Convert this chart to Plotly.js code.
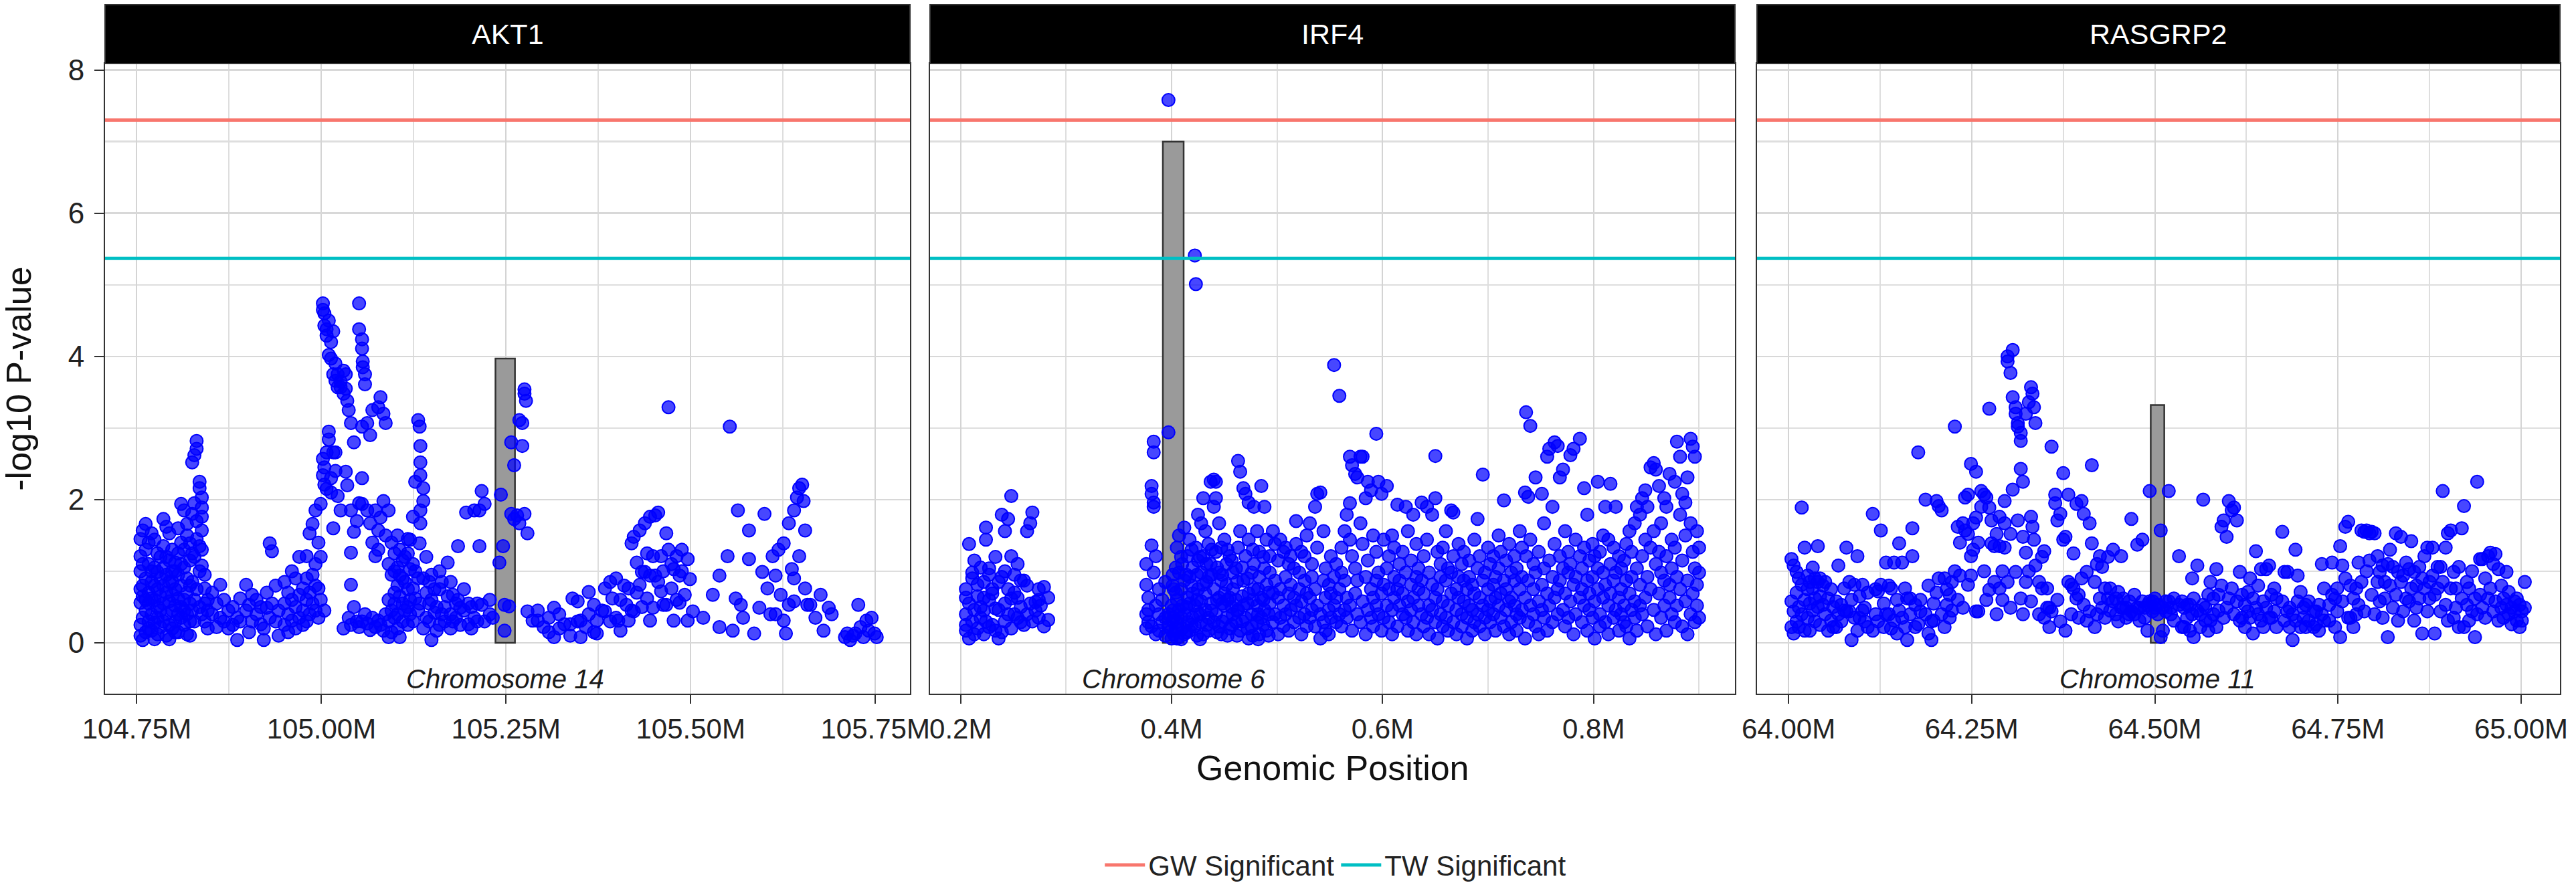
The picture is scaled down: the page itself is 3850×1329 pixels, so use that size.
<!DOCTYPE html>
<html><head><meta charset="utf-8">
<script src="https://cdn.plot.ly/plotly-3.0.1.min.js"></script>
<style>html,body{margin:0;padding:0;background:#fff}#chart{width:3850px;height:1329px}</style>
</head><body><div id="chart"></div>
<script>
const genes = ['AKT1', 'IRF4', 'RASGRP2'];
const chromosomes = ['Chromosome 14', 'Chromosome 6', 'Chromosome 11'];
const geneStart = [105.2357, 0.3917, 64.4944];
const geneEnd = [105.2621, 0.4114, 64.5129];
const geneLogP = [3.97, 7.00, 3.32];
const gwThreshold = 7.30;
const twThreshold = 5.37;
const xRanges = [[104.707, 105.797], [0.171, 0.934], [63.957, 65.053]];
const yRange = [-0.71, 8.09];
const xTickVals = [[104.75, 105.00, 105.25, 105.50, 105.75], [0.2, 0.4, 0.6, 0.8], [64.00, 64.25, 64.50, 64.75, 65.00]];
const xTickText = [['104.75M', '105.00M', '105.25M', '105.50M', '105.75M'], ['0.2M', '0.4M', '0.6M', '0.8M'], ['64.00M', '64.25M', '64.50M', '64.75M', '65.00M']];
const xMinorVals = [[104.875, 105.125, 105.375, 105.625], [0.3, 0.5, 0.7, 0.9], [64.125, 64.375, 64.625, 64.875]];
const yTickVals = [0, 2, 4, 6, 8];
const yTickText = ['0', '2', '4', '6', '8'];
const yMinorVals = [1, 3, 5, 7];

// rows: [position (Mb), -log10 P of SNPs at about that position ...]
const akt1Rows = [
[104.755,0.56,0.25,0.10,1.00,1.21,1.45,0.75],[104.758,0.04,0.35,0.80,1.57,0.65,1.10],[104.762,1.66,0.15,0.45,1.30,0.90,0.60],
[104.766,0.30,0.70,1.10,0.20,0.55,1.40],[104.770,0.17,0.85,1.53,0.40,0.62,1.00],[104.774,0.05,1.44,0.60,0.28,1.05,0.80],
[104.778,0.99,0.35,0.75,0.50,0.12,1.25],[104.782,0.22,0.65,1.20,0.45,0.90],[104.786,1.73,0.30,0.80,0.55,1.35,1.05],
[104.790,1.62,0.10,0.70,0.95,0.40,1.20],[104.794,1.53,0.25,0.58,1.15,0.05,0.85],[104.798,1.30,0.45,0.85,0.20,0.66,1.00],
[104.802,1.12,0.30,0.52,0.75,1.00,0.15],[104.806,0.40,0.95,0.15,1.25,0.62,1.60],[104.810,1.94,0.50,0.80,0.35,1.40,1.10],
[104.814,1.85,0.60,0.25,1.05,0.45,1.30],[104.818,1.66,0.70,0.40,1.50,0.90,0.12],[104.822,1.39,0.55,0.30,1.15,0.10,0.80],
[104.825,2.52,1.80,0.85,0.45,1.25],[104.828,2.62,1.95,0.60,1.20,0.30],[104.831,2.82,2.71,1.70,0.75,1.45],
[104.835,2.25,2.16,1.00,0.50,1.35],[104.838,2.03,1.89,1.76,1.57,1.30,1.08,0.40],[104.842,0.76,0.55,0.30,0.95],
[104.846,0.60,0.20,0.45],[104.852,0.40,0.70],[104.858,0.22,0.55],[104.863,0.81,0.35],[104.868,0.30,0.60],
[104.874,0.45,0.20],[104.880,0.25,0.50],[104.886,0.04,0.35],[104.890,0.62,0.30],[104.898,0.81,0.45],
[104.902,0.53,0.15],[104.906,0.67,0.30],[104.912,0.40,0.60],[104.918,0.26,0.50],[104.922,0.04,0.20],
[104.926,0.49,0.70],[104.930,1.39,0.35],[104.933,1.28,0.55],[104.938,0.30,0.80],[104.942,0.10,0.45],
[104.950,0.25,0.55,0.85],[104.955,0.40,0.70,0.15],[104.960,0.31,0.60,1.00],[104.965,0.50,0.20,0.90],
[104.970,0.67,0.35,1.20],[104.975,0.76,0.45,0.25],[104.980,1.21,0.60,0.30,0.90],[104.984,1.53,0.70,0.40],
[104.988,1.66,0.55,0.95],[104.992,1.85,0.80,0.45,1.10],[104.996,0.76,1.40,0.35],[104.999,1.94,1.20,0.60],
[105.002,4.74,4.65,2.57,2.34],[105.004,4.60,4.43,2.21,2.45,0.45],[105.007,4.29,4.38,2.66,2.15],
[105.010,4.02,4.50,2.84,2.95],[105.013,3.97,4.20,2.30,2.10],[105.016,3.75,4.35,2.66,1.60],
[105.019,2.66,3.66,3.90,2.40],[105.022,3.75,3.57,2.05],[105.026,3.57,1.85,3.65],[105.030,3.48,3.80,0.20],
[105.033,3.75,2.39,3.55],[105.035,3.38,2.20],[105.037,3.25,0.35],[105.040,3.07,1.85,1.26,0.81,0.25],
[105.044,2.80,1.55,0.50],[105.048,1.70,0.30],[105.051,4.74,4.38,0.22,1.95],[105.055,4.24,4.11,2.30,1.94,3.02,0.30],
[105.056,3.93,3.85],[105.059,3.75,3.61,0.40],[105.062,3.07,1.85,0.27],[105.066,1.67,2.90,0.18],
[105.069,3.25,1.40,0.35],[105.073,1.85,1.21,0.22],[105.077,3.29,1.57,1.30,0.31],[105.080,3.43,1.75,0.25],
[105.084,3.20,1.98,0.17],[105.087,3.07,1.50,0.40],[105.091,1.85,1.10,0.60,0.30,0.08],[105.095,0.95,1.40,0.45,0.15],
[105.099,1.25,0.70,0.35,0.55,1.00],[105.103,1.50,0.40,0.20,1.05,0.80],[105.106,0.94,0.65,1.30,0.08],
[105.110,0.90,0.30,1.15,0.55],[105.113,0.85,0.45,1.20],[105.117,0.50,0.75,0.25,1.25,1.45],[105.120,1.03,1.44,0.40,0.60],
[105.124,1.76,0.76,0.30,1.10],[105.127,2.25,0.62,1.00],[105.131,3.11,0.90,0.45],[105.133,3.02,1.39,0.55],
[105.134,2.75,2.52,2.34,1.85,1.67],[105.138,2.16,1.98,0.90,0.20],[105.142,0.35,0.70,1.20],[105.146,0.55,0.30,0.85],
[105.149,0.04,0.60,0.95],[105.153,0.42,0.75],[105.156,0.17,0.50],[105.160,0.25,0.75,1.00],[105.163,0.85,0.40],
[105.167,0.50,0.30],[105.171,1.12,0.65],[105.175,0.40,0.85,0.20],[105.178,0.67,0.30],[105.182,0.55,0.35],
[105.185,1.35,0.60],[105.188,0.49,0.25],[105.193,0.45,0.75],[105.196,1.82],[105.199,0.26,0.55],[105.203,0.50,0.20],
[105.207,1.85,0.35],[105.211,0.55,0.30],[105.214,1.85,1.35],[105.217,2.12,0.53],[105.221,1.94,0.30],
[105.228,0.40,0.60],[105.232,0.35],[105.241,1.12],[105.243,2.07],[105.246,1.35],[105.248,0.53,0.17],[105.254,0.51],
[105.257,2.80,1.80],[105.261,2.48,1.73],[105.265,1.78],[105.268,3.11,1.67],[105.272,3.07,2.75],[105.275,3.48,3.54,1.80],
[105.277,3.38],[105.279,1.53,0.44],[105.286,0.31],[105.293,0.31,0.45],[105.301,0.22],[105.308,0.35,0.15],
[105.315,0.08,0.49],[105.322,0.40,0.20],[105.329,0.26],[105.337,0.26,0.10],[105.340,0.62],[105.347,0.58,0.30],
[105.351,0.08,0.31],[105.358,0.22],[105.362,0.71,0.40],[105.369,0.53,0.15],[105.373,0.31,0.13],[105.380,0.45],
[105.384,0.76,0.44],[105.391,0.85,0.30],[105.394,0.62],[105.399,0.35,0.90],[105.402,0.31],[105.405,0.17,0.60],
[105.410,0.80],[105.413,0.53],[105.416,0.76,0.31],[105.420,1.39,0.45],[105.423,1.48,0.44],[105.427,1.12,0.70],
[105.431,1.57,0.81],[105.434,0.99,0.50],[105.438,1.67,0.99],[105.441,0.62,1.25],[105.445,1.76,0.31,0.94],
[105.449,1.21,0.49],[105.452,1.78,0.94],[105.456,1.82,0.85],[105.460,1.21,0.72],[105.463,0.53,1.00],
[105.467,1.53,0.53],[105.470,3.29,1.30],[105.474,0.76,1.10],[105.477,1.03,0.31],[105.481,1.21,0.60],
[105.485,0.94,0.56],[105.488,1.30,1.00],[105.492,0.67],[105.496,1.17,0.31],[105.499,0.89],[105.503,0.44],
[105.517,0.35],[105.530,0.67],[105.539,0.94,0.22],[105.550,1.21],[105.553,3.02],[105.557,0.17],[105.561,0.62],
[105.564,1.85],[105.568,0.53],[105.571,0.35],[105.579,1.57,1.17],[105.586,0.13],[105.593,0.49],[105.597,0.99],
[105.600,1.80],[105.604,0.76],[105.608,0.40],[105.611,1.21],[105.615,0.94,0.40],[105.619,1.30],[105.622,0.67],
[105.626,1.39,0.31],[105.629,0.13],[105.633,1.67,0.53],[105.637,1.03],[105.640,1.85,0.90,0.58],[105.644,2.03],
[105.647,2.16,1.21],[105.651,2.21],[105.653,1.98],[105.655,1.57,0.76],[105.658,0.53],[105.662,0.53],[105.669,0.35],
[105.676,0.67],[105.680,0.17],[105.687,0.49],[105.691,0.40],[105.709,0.08],[105.712,0.13],[105.716,0.04],
[105.720,0.10],[105.723,0.13],[105.727,0.53],[105.730,0.22],[105.734,0.08],[105.738,0.31],[105.741,0.17],
[105.745,0.35],[105.749,0.13],[105.752,0.08]
];

const irf4Rows = [
[0.205,0.40,0.75,0.25,0.63,0.17],[0.208,1.38,0.06,0.55],[0.211,0.98,0.90,0.30],[0.213,1.15,0.46,0.12],
[0.216,0.81,0.20,0.65],[0.219,0.35,1.05,0.50],[0.222,0.45,0.85,0.12,0.63],[0.224,1.61,1.44,0.30],
[0.227,1.04,0.60,0.95,0.22],[0.230,0.69,0.25,0.75],[0.233,0.17,1.20,0.48],[0.236,0.06,0.46,0.85],
[0.239,1.79,0.92,0.15],[0.242,1.56,0.55,0.30,1.00],[0.245,1.73,0.75,0.40],[0.248,2.05,1.21,0.20,0.62],
[0.251,0.40,0.70,0.95],[0.254,0.63,0.35,1.10],[0.257,0.29,0.50,0.87],[0.260,0.87,0.25],[0.263,1.56,0.40,0.80],
[0.266,1.67,0.55],[0.268,1.82,0.30],[0.271,0.57,0.45],[0.274,0.75,0.35,0.60],[0.276,0.52],[0.279,0.23,0.78],
[0.283,0.32,0.63],
[0.376,0.81,0.40,0.20,1.10],[0.378,0.46,0.63,0.29],[0.381,2.19,2.08,1.36,0.23],[0.383,2.81,2.66,1.96,1.90,0.98],
[0.385,1.21,0.52,0.12],[0.388,0.40,0.75,0.17],[0.391,0.29,0.60],[0.394,0.35,0.10,0.85],[0.397,7.58,2.94,0.23,0.40],
[0.400,0.06,0.52,0.17],[0.401,0.45,0.80,0.95,0.30],[0.402,0.35,0.12,0.75],[0.404,0.70,0.20,1.05],
[0.405,0.06,0.29,1.33,0.60],[0.407,1.50,0.46,0.98],[0.409,0.35,0.75,1.20,0.05],
[0.410,0.52,1.10,0.20],[0.412,1.61,0.87,0.40,0.12],[0.414,0.95,0.15,0.50],[0.415,1.21,0.63,0.29],[0.417,1.44,0.92,0.17,0.55],
[0.419,0.25,1.30,0.80],[0.420,0.69,1.05,0.35],[0.422,5.41,0.52,0.23],[0.423,5.01,1.33],[0.424,0.60,0.95,0.10],
[0.425,1.79,0.75,0.40,1.15],[0.427,1.20,0.40,0.05],
[0.428,1.67,0.29,0.98,0.58],[0.430,2.02,1.21,0.12,0.81],[0.432,1.56,0.46,0.69],[0.433,0.85,0.25,1.10],
[0.435,1.38,0.35,0.92,0.17],[0.437,2.25,1.10,0.55],[0.438,0.45,0.95,1.30],[0.440,2.28,1.90,0.75,0.29],
[0.442,2.25,2.02,0.40,1.27],[0.443,0.60,0.15,1.05],[0.445,1.67,0.63,0.23,0.98],
[0.447,1.33,0.87,0.12],[0.448,0.30,0.95,0.55],[0.450,0.52,1.44,0.69],[0.452,0.35,0.81,1.10],[0.453,0.10,0.60,1.30],
[0.455,0.63,0.20,1.21],[0.457,0.50,1.15,0.25],[0.458,0.75,0.40,0.98],
[0.461,1.04,0.29,0.60],[0.462,0.85,0.10,0.45],[0.463,2.54,0.46,1.33],[0.465,2.39,1.56,0.17],[0.467,0.30,1.05,0.65],
[0.468,2.16,0.87,0.52],[0.470,2.08,1.21,0.35],[0.472,0.20,0.55,0.90],
[0.473,1.96,0.69,1.44,0.06],[0.476,0.98,0.40,0.23],[0.477,0.60,1.30,0.10],[0.478,1.90,0.75,1.10],[0.481,1.56,0.52,0.29],
[0.482,0.40,0.75,0.05],[0.483,0.92,1.27,0.12],[0.485,2.19,0.63,0.35],[0.487,0.25,0.60,1.20],[0.488,1.90,1.04,0.46],
[0.490,1.44,0.81,0.17],[0.492,0.10,0.40,0.70],[0.493,1.21,0.55,0.98],
[0.496,1.56,0.29,0.69],[0.498,1.38,0.87,0.40],[0.501,0.63,1.15,0.12],[0.503,1.44,0.35,0.75],[0.506,1.27,0.52,0.23],
[0.508,1.33,0.92,0.40],[0.511,0.69,1.10,0.17],[0.513,1.21,0.46,0.81],[0.516,1.04,0.29,0.63],[0.518,1.38,1.70,0.52],
[0.521,0.98,0.35,0.75],[0.523,1.27,0.12,0.58],[0.526,1.21,0.87,0.40],[0.528,1.50,0.23,0.69],[0.531,1.67,0.63,0.35],
[0.533,1.10,0.46,0.92],[0.536,1.90,0.75,0.23],[0.538,2.08,1.33,0.52],[0.541,2.10,0.40,0.06],[0.544,1.56,0.87,0.29],
[0.546,0.63,0.17,1.04],[0.549,0.46,0.81,0.12],[0.551,0.35,0.69,1.21],[0.554,3.88,0.52,0.92],[0.556,0.29,0.63,1.10],
[0.559,3.45,0.75,0.40],[0.561,0.98,0.23,1.33],[0.564,0.46,0.87,1.56],[0.566,1.79,0.35,0.63],[0.569,2.60,1.44,0.52,1.95],
[0.571,2.48,1.21,0.17],[0.574,2.36,1.04,0.69],[0.576,2.31,0.40,0.87],[0.579,2.60,1.67,0.29],[0.581,2.60,1.38,0.58],
[0.584,2.02,0.92,0.12],[0.586,2.25,1.15,0.46],[0.589,2.13,0.75,0.35],[0.591,1.50,0.63,0.23],[0.594,2.92,1.27,0.87,0.52],
[0.596,2.25,0.98,0.40],[0.599,2.08,0.69,0.17],[0.601,1.44,0.35,0.81],[0.604,2.19,1.04,0.52],[0.606,0.75,1.21,0.29],
[0.609,1.50,0.46,0.12],[0.611,0.92,0.63,1.33],[0.614,1.93,0.23,0.75],[0.616,1.10,0.52,0.87],[0.619,0.40,1.27,0.69],
[0.622,1.90,0.98,0.35],[0.624,1.56,0.58,0.17],[0.627,0.81,1.15,0.46],[0.629,1.79,0.63,0.29],[0.632,1.38,0.92,0.12],
[0.634,0.52,1.04,0.75],[0.637,1.96,0.40,0.87],[0.639,1.21,0.69,0.23],[0.642,1.90,0.35,1.44],[0.644,0.98,0.52,0.12],
[0.647,1.79,0.81,0.46],[0.650,2.61,2.02,0.63,0.29],[0.652,1.27,0.75,0.06],[0.655,0.92,0.40,1.10],[0.657,0.58,1.33,0.23],
[0.660,0.87,0.35,1.56],[0.662,1.04,0.52,0.17],[0.665,1.85,0.69,0.98],[0.667,1.82,0.29,1.21],[0.670,0.75,0.46,0.12],
[0.672,1.38,0.63,0.92],[0.675,0.40,1.10,0.23],[0.677,0.87,0.58,1.27],[0.680,0.35,0.75,0.06],[0.682,1.15,0.52,0.92],
[0.685,0.46,0.81,0.17],[0.687,1.44,0.29,0.69],[0.690,1.73,1.04,0.40],[0.692,0.63,0.23,1.21],[0.695,2.35,0.87,0.52],
[0.697,0.98,0.35,0.12],[0.700,1.33,0.75,0.46],[0.702,0.58,1.10,0.29],[0.705,1.21,0.40,0.81],[0.707,0.92,0.17,0.63],
[0.710,1.50,0.52,1.04],[0.712,0.69,0.35,1.27],[0.715,1.99,0.87,0.23],[0.717,1.15,0.46,0.75],[0.720,0.58,1.38,0.12],
[0.722,0.98,0.29,0.63],[0.725,1.21,0.52,0.87],[0.727,0.40,1.04,0.17],[0.730,1.56,0.75,0.35],[0.732,0.92,0.46,1.33],
[0.735,2.10,0.63,0.06],[0.736,3.22,1.21],[0.738,2.04,0.87,0.29],[0.740,3.03,1.44,0.52],[0.743,1.10,0.40,0.75],
[0.745,2.31,0.98,0.23],[0.748,1.27,0.58,0.12],[0.751,2.08,0.81,0.46],[0.753,1.67,0.35,1.04],[0.756,2.60,0.69,0.17],
[0.758,2.71,1.15,0.52],[0.761,1.90,0.92,0.29],[0.763,2.80,1.38,0.63],[0.766,2.75,0.75,0.40],[0.768,2.31,1.21,0.87],
[0.771,2.42,0.46,1.04],[0.773,1.56,0.23,0.69],[0.776,1.27,0.98,0.35],[0.778,2.62,0.58,1.10],[0.781,2.71,0.81,0.12],
[0.783,1.44,0.40,0.92],[0.787,2.85,1.21,0.63],[0.789,1.04,0.29,0.75],[0.791,2.16,0.52,1.33],[0.794,1.79,0.87,0.17],
[0.796,1.15,0.46,0.69],[0.799,0.92,1.38,0.35],[0.801,1.21,0.58,0.06],[0.804,2.25,0.75,1.04],[0.806,1.27,0.40,0.23],
[0.809,0.98,0.63,1.50],[0.811,1.90,0.81,0.29],[0.814,1.44,0.52,0.12],[0.816,2.22,0.69,1.10],[0.819,1.33,0.35,0.87],
[0.821,1.90,0.98,0.46],[0.824,0.63,1.21,0.17],[0.826,1.04,0.40,0.75],[0.829,0.52,1.15,0.29],[0.831,0.87,0.23,1.38],
[0.834,1.56,0.69,0.06],[0.836,1.27,0.46,0.92],[0.839,1.67,0.58,0.35],[0.841,1.90,1.04,0.17],[0.844,1.79,0.81,0.52],
[0.846,2.02,1.21,0.40],[0.849,2.13,0.63,1.44],[0.851,1.90,0.92,0.23],[0.854,2.45,1.33,0.75],[0.857,2.51,1.56,0.46],
[0.859,2.42,1.10,0.12],[0.862,2.19,0.69,1.27],[0.864,1.67,0.98,0.35],[0.867,2.02,0.52,0.87],[0.869,1.90,1.21,0.17],
[0.872,2.36,0.81,0.63],[0.874,1.44,0.40,1.04],[0.877,2.25,0.29,1.33],[0.879,2.81,0.92,0.52],[0.882,2.60,1.79,0.75],
[0.884,2.08,1.15,0.23],[0.887,1.96,0.58,1.50],[0.889,2.31,0.87,0.12],[0.892,2.85,1.67,0.40],[0.894,2.74,1.27,0.69],
[0.896,2.60,1.04,0.29],[0.898,1.56,0.52,0.81],[0.900,1.33,0.35,0.98]
];

const rasgrp2Rows = [
[64.004,1.17,0.58,0.22],[64.007,1.08,0.44,0.13],[64.011,0.99,0.70,0.30],[64.014,0.90,0.50,0.22],[64.018,1.89,0.81,0.40],
[64.022,1.33,0.60,0.17],[64.026,0.94,0.35,0.75],[64.029,0.17,0.85,0.55],[64.033,0.76,1.05,0.45],[64.036,0.62,0.30,0.90],
[64.040,1.35,0.85,0.50],[64.043,0.90,0.25,0.65],[64.047,0.53,0.80],[64.050,0.85,0.40],[64.054,0.17,0.62],
[64.058,0.31,0.75],[64.061,0.50,0.22],[64.065,0.22,0.58],[64.068,1.08,0.40],[64.072,0.53,0.30],[64.076,0.76,0.45],
[64.079,1.33,0.44],[64.083,0.44,0.85],[64.086,0.04,0.60],[64.090,0.81,0.35],[64.094,1.21,0.17],[64.097,0.35,0.65],
[64.101,0.81,0.45],[64.104,0.49,0.30],[64.108,0.70,0.22],[64.115,1.80,0.17],[64.119,0.40,0.75],[64.122,0.72,0.30],
[64.126,1.57,0.81],[64.130,0.55,0.22],[64.133,1.12,0.40],[64.137,0.40,0.80],[64.140,0.76,0.20],[64.144,1.12,0.31],
[64.148,0.60,0.13],[64.151,1.39,0.45],[64.155,1.12,0.35],[64.159,0.76,0.22],[64.162,0.04,0.62],[64.166,0.62,0.40],
[64.169,1.60,1.21],[64.173,0.53,0.22],[64.177,2.66,0.26],[64.180,0.44,0.60],[64.187,2.00,0.40],[64.191,0.80,0.13],
[64.195,0.04,0.30],[64.198,0.31,0.55],[64.202,1.98,0.70],[64.205,1.91,0.90],[64.209,1.85,0.40],[64.213,0.90,0.22],
[64.216,0.53,0.75],[64.220,0.67,0.35],[64.223,0.85,0.45],[64.227,3.02,1.00],[64.231,1.62,0.60],[64.234,0.94,1.40],
[64.238,1.67,0.49],[64.241,2.03,1.57],[64.245,2.07,1.52,0.81],[64.249,2.50,1.21,0.94],[64.252,1.67,1.30],
[64.256,2.39,0.44,1.75],[64.259,0.44,1.40],[64.263,2.12,1.90],[64.267,2.07,1.00],[64.270,2.03,0.60],
[64.274,3.27,1.89,0.74],[64.277,1.71,1.39],[64.281,0.85,1.35],[64.284,1.52,0.40],[64.288,1.35,1.76,0.76],
[64.292,1.00,0.60],[64.295,1.98,1.67,1.33],[64.299,4.00,3.93,0.85],[64.303,3.77,1.52,0.49],[64.306,4.09,3.43,2.14],
[64.310,3.29,3.20,0.99],[64.313,3.07,3.02,1.71],[64.317,2.82,2.93,2.43,0.62],[64.320,2.25,1.48,0.40],
[64.324,3.20,1.26,0.85],[64.328,3.36,1.00],[64.331,3.57,1.76,0.58],[64.333,3.48,1.62],[64.335,3.29,1.44],
[64.337,3.07,1.08],[64.342,0.85,0.40],[64.346,0.76,1.20],[64.349,1.28,0.35],[64.353,0.76,0.49],[64.356,0.49,0.22],
[64.359,2.74,0.44],[64.364,2.07,1.95],[64.367,1.71,0.60],[64.371,1.80,0.30],[64.375,2.37,1.44],[64.378,1.48,0.17],
[64.382,2.07,0.85],[64.386,0.81,0.40],[64.389,0.76,1.25],[64.393,1.94,0.62],[64.396,0.67,0.35],[64.400,1.98,0.90],
[64.403,1.80,0.53],[64.407,0.99,0.31],[64.411,1.67,0.44],[64.414,2.48,1.39],[64.418,0.85,0.22],[64.421,0.40,1.10],
[64.425,1.21,0.62],[64.428,1.06,0.49],[64.432,0.76,0.35],[64.436,0.62,1.20],[64.439,0.76,0.45],[64.443,1.30,0.58],
[64.447,0.62,0.40],[64.450,0.71,0.30],[64.454,1.21,0.49],[64.457,0.49,0.62],[64.461,0.49,0.35],[64.465,0.40,0.58],
[64.468,1.73,0.44],[64.472,0.40,0.67],[64.476,1.37,0.49],[64.479,0.49,0.31],[64.483,1.44,0.58],[64.486,0.49,0.35],
[64.490,0.17,0.53],[64.493,2.12,0.58],[64.497,0.58,0.44],[64.500,0.49,0.62],[64.504,0.53,0.40],[64.508,1.57,0.08],
[64.511,0.17,0.49],[64.515,0.58,0.44],[64.519,2.12,0.58],[64.522,0.49,0.40],[64.526,0.62,0.31],[64.533,1.21,0.53],
[64.537,0.58,0.22],[64.540,0.22,0.49],[64.544,0.53,0.35],[64.548,0.53,0.17],[64.551,0.90,0.40],[64.553,0.08,0.62],
[64.558,1.08,0.45],[64.562,0.40,0.22],[64.566,2.00,0.53],[64.569,0.49,0.31],[64.573,0.67,0.17],[64.576,0.31,0.85],
[64.580,0.62,0.40],[64.584,1.03,0.22],[64.587,0.67,0.45],[64.591,1.62,0.80],[64.594,1.71,0.35],[64.598,1.48,0.49],
[64.601,1.98,0.62],[64.605,1.85,0.76],[64.608,1.89,0.40],[64.612,1.71,0.58],[64.616,0.99,0.31],[64.619,0.35,0.67],
[64.623,0.53,0.22],[64.627,0.71,0.44],[64.630,0.90,0.35],[64.634,0.62,0.13],[64.638,1.28,0.49],[64.641,0.40,0.80],
[64.645,1.03,0.31],[64.648,0.58,0.22],[64.652,1.03,0.49],[64.656,1.08,0.35],[64.659,0.35,0.67],[64.663,0.76,0.44],
[64.666,0.62,0.22],[64.674,1.55,0.58],[64.677,0.99,0.31],[64.681,0.99,0.44],[64.684,0.49,0.22],[64.688,0.04,0.40],
[64.692,1.30,0.31],[64.695,0.94,0.58],[64.699,0.71,0.22],[64.703,0.35,0.49],[64.706,0.53,0.22],[64.710,0.31,0.58],
[64.717,0.22,0.44],[64.720,0.44,0.26],[64.724,0.53,0.17],[64.728,1.10,0.40],[64.731,0.76,0.31],[64.738,0.31,0.53],
[64.742,1.12,0.67],[64.746,0.62,0.22],[64.749,0.76,0.44],[64.753,1.35,0.08],[64.756,1.08,0.58],[64.760,1.62,0.90],
[64.764,1.69,0.35],[64.767,0.35,0.80],[64.771,0.22,0.62],[64.775,0.76,0.40],[64.778,1.12,0.53],[64.782,1.57,0.85],
[64.786,1.55,0.44],[64.789,1.57,1.00],[64.793,1.53,1.15],[64.796,1.55,0.67],[64.800,1.53,0.40],[64.804,1.21,0.85],
[64.807,0.99,0.58],[64.811,1.08,0.35],[64.814,0.85,0.62],[64.818,0.08,1.10],[64.821,1.30,0.80],[64.825,1.06,0.49],
[64.829,1.53,0.67],[64.832,0.99,0.31],[64.836,1.48,0.85],[64.839,0.94,0.44],[64.843,0.62,1.12],[64.847,1.03,0.58],
[64.850,1.42,0.76],[64.854,0.31,0.99],[64.857,0.80,0.49],[64.861,1.06,0.62],[64.865,0.13,0.90],[64.868,0.76,1.21],
[64.872,1.33,0.44],[64.875,0.85,0.62],[64.879,1.33,0.94],[64.882,0.13,0.67],[64.886,0.76,1.06],[64.890,1.06,0.44],
[64.893,2.12,0.85],[64.897,1.33,0.53],[64.900,1.53,0.31],[64.904,1.57,0.76],[64.908,0.35,0.99],[64.911,0.76,0.49],
[64.915,1.06,0.22],[64.919,1.60,0.62],[64.922,1.91,0.22],[64.926,0.53,0.85],[64.929,0.76,0.31],[64.933,1.00,0.44],
[64.937,0.08,0.62],[64.940,2.25,0.40],[64.944,0.67,1.17],[64.947,1.17,0.49],[64.951,0.90,0.35],[64.955,1.21,0.62],
[64.958,1.26,0.76],[64.962,1.10,0.44],[64.965,1.24,0.58],[64.969,1.03,0.31],[64.973,0.49,0.80],[64.976,0.62,0.35],
[64.980,0.99,0.53],[64.983,0.40,0.71],[64.987,0.49,0.26],[64.991,0.58,0.44],[64.994,0.31,0.62],[64.998,0.22,0.53],
[65.001,0.44,0.31],[65.005,0.85,0.49]
];

const snpRows = [akt1Rows, irf4Rows, rasgrp2Rows];

const FONT = 'Liberation Sans, Arial, Helvetica, sans-serif';
const xDomains = [[0.04078, 0.35325], [0.36104, 0.67351], [0.68208, 0.99377]];
const yDomain = [0.2197, 0.9285];
const stripTop = 0.9947;

function flatten(rows) {
  const x = [], y = [];
  rows.forEach(r => { for (let k = 1; k < r.length; k++) { x.push(r[0]); y.push(r[k]); } });
  return {x, y};
}

const traces = [];
const layout = {
  width: 3850, height: 1329,
  margin: {l: 0, r: 0, t: 0, b: 0},
  paper_bgcolor: '#ffffff', plot_bgcolor: '#ffffff',
  font: {family: FONT, color: '#222'},
  showlegend: true,
  legend: {orientation: 'h', x: 0.5185, xanchor: 'center', y: 0.027, yanchor: 'middle',
           font: {size: 42, family: FONT, color: '#222'}, itemwidth: 60, tracegroupgap: 0},
  hovermode: false,
  shapes: [], annotations: []
};

for (let i = 0; i < 3; i++) {
  const xa = i === 0 ? 'x' : 'x' + (i + 1);
  const ya = i === 0 ? 'y' : 'y' + (i + 1);
  // gene bar
  traces.push({type: 'bar', x: [(geneStart[i] + geneEnd[i]) / 2], y: [geneLogP[i]], width: [geneEnd[i] - geneStart[i]],
    xaxis: xa, yaxis: ya, marker: {color: '#9a9a9a', line: {color: '#333333', width: 2.5}}, showlegend: false, hoverinfo: 'skip'});
  // SNPs
  const d = flatten(snpRows[i]);
  traces.push({type: 'scatter', mode: 'markers', x: d.x, y: d.y, xaxis: xa, yaxis: ya, showlegend: false,
    marker: {size: 19, color: 'rgba(0,0,255,0.72)', line: {color: 'rgba(0,0,255,1)', width: 2}}});
  // thresholds
  traces.push({type: 'scatter', mode: 'lines', x: xRanges[i], y: [gwThreshold, gwThreshold], xaxis: xa, yaxis: ya,
    name: 'GW Significant', legendgroup: 'gw', showlegend: i === 0, line: {color: '#F8766D', width: 5}});
  traces.push({type: 'scatter', mode: 'lines', x: xRanges[i], y: [twThreshold, twThreshold], xaxis: xa, yaxis: ya,
    name: 'TW Significant', legendgroup: 'tw', showlegend: i === 0, line: {color: '#00BFC4', width: 5}});

  layout[i === 0 ? 'xaxis' : 'xaxis' + (i + 1)] = {
    domain: xDomains[i], range: xRanges[i], anchor: ya, fixedrange: true,
    tickmode: 'array', tickvals: xTickVals[i], ticktext: xTickText[i],
    ticks: 'outside', ticklen: 13, tickwidth: 2, tickcolor: '#333', ticklabelstandoff: 2,
    tickfont: {size: 42, family: FONT, color: '#222'},
    showgrid: true, gridcolor: '#d4d4d4', gridwidth: 2,
    minor: {tickmode: 'array', tickvals: xMinorVals[i], showgrid: true, gridcolor: '#dedede', gridwidth: 2, ticks: ''},
    showline: true, mirror: true, linecolor: '#333', linewidth: 2, zeroline: false
  };
  layout[i === 0 ? 'yaxis' : 'yaxis' + (i + 1)] = {
    domain: yDomain, range: yRange, anchor: xa, fixedrange: true,
    tickmode: 'array', tickvals: yTickVals, ticktext: yTickText,
    ticks: i === 0 ? 'outside' : '', ticklen: 14, tickwidth: 2, tickcolor: '#333', ticklabelstandoff: 6,
    showticklabels: i === 0,
    tickfont: {size: 44, family: FONT, color: '#222'},
    showgrid: true, gridcolor: '#d8d8d8', gridwidth: 2.5,
    minor: {tickmode: 'array', tickvals: yMinorVals, showgrid: true, gridcolor: '#dedede', gridwidth: 2.5, ticks: ''},
    showline: true, mirror: true, linecolor: '#333', linewidth: 2, zeroline: false
  };

  // facet strip
  layout.shapes.push({type: 'rect', xref: 'paper', yref: 'paper', x0: xDomains[i][0], x1: xDomains[i][1],
    y0: yDomain[1], y1: stripTop, fillcolor: '#000000', line: {color: '#333333', width: 2}, layer: 'above'});
  layout.annotations.push({xref: 'paper', yref: 'paper', x: (xDomains[i][0] + xDomains[i][1]) / 2,
    y: (yDomain[1] + stripTop) / 2, text: genes[i], showarrow: false, xanchor: 'center', yanchor: 'middle',
    font: {size: 43, color: '#ffffff', family: FONT}});
  // chromosome label
  layout.annotations.push({xref: xa, yref: ya, x: (geneStart[i] + geneEnd[i]) / 2, y: -0.5, text: '<i>' + chromosomes[i] + '</i>',
    showarrow: false, xanchor: 'center', yanchor: 'middle', font: {size: 40, color: '#1a1a1a', family: FONT}});
}

layout.annotations.push({xref: 'paper', yref: 'paper', x: 0.5173, y: 0.1365, text: 'Genomic Position', showarrow: false,
  xanchor: 'center', yanchor: 'middle', font: {size: 52, color: '#111', family: FONT}});
layout.annotations.push({xref: 'paper', yref: 'paper', x: 0.0072, y: 0.5741, text: '-log10 P-value', showarrow: false,
  textangle: -90, xanchor: 'center', yanchor: 'middle', font: {size: 52, color: '#111', family: FONT}});

Plotly.newPlot('chart', traces, layout, {displayModeBar: false, staticPlot: true});
</script>
</body></html>
